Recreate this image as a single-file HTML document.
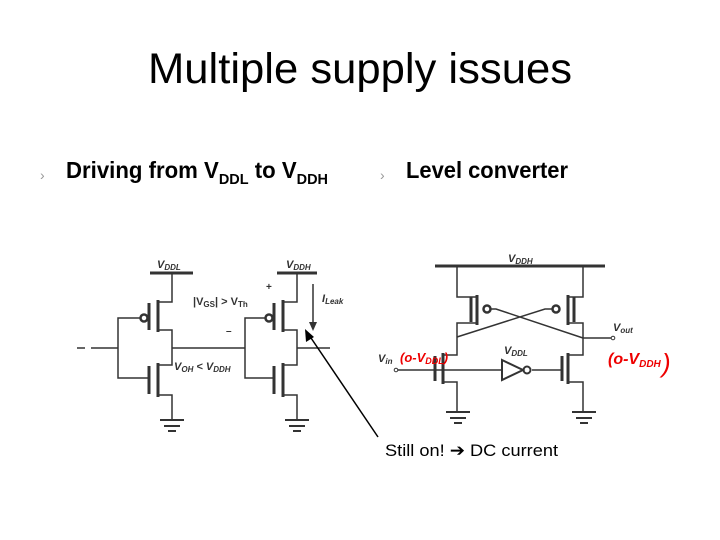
<!DOCTYPE html>
<html><head><meta charset="utf-8"><style>
html,body{margin:0;padding:0;background:#fff;width:720px;height:540px;overflow:hidden}
svg{display:block}
text{font-family:"Liberation Sans",sans-serif}
</style></head><body>
<svg width="720" height="540" viewBox="0 0 720 540" xmlns="http://www.w3.org/2000/svg">
<text x="360" y="83" font-size="43" text-anchor="middle" fill="#000" textLength="424" lengthAdjust="spacingAndGlyphs">Multiple supply issues</text>
<text x="40" y="180" font-size="14" fill="#999">›</text>
<text x="66" y="178" font-size="23" font-weight="bold" fill="#000" textLength="262" lengthAdjust="spacingAndGlyphs">Driving from V<tspan font-size="15" dy="6">DDL</tspan><tspan dy="-6"> to V</tspan><tspan font-size="15" dy="6">DDH</tspan></text>
<text x="380" y="180" font-size="14" fill="#999">›</text>
<text x="406" y="178" font-size="23" font-weight="bold" fill="#000" textLength="162" lengthAdjust="spacingAndGlyphs">Level converter</text>

<g stroke="#333" stroke-width="1.5" fill="none">
<line x1="150" y1="273" x2="193" y2="273" stroke-width="3"/>
<path d="M172 273V302H158M158 330H172V365H158M158 395H172V420"/>
<line x1="158" y1="300" x2="158" y2="332" stroke-width="3"/>
<line x1="149" y1="303" x2="149" y2="330" stroke-width="3"/>
<circle cx="144" cy="318" r="3.5" stroke-width="2.5"/>
<path d="M140 318H118V378H149"/>
<line x1="158" y1="363" x2="158" y2="397" stroke-width="3"/>
<line x1="149" y1="366" x2="149" y2="394" stroke-width="3"/>
<path d="M77 348H85M91 348H118M172 348H245"/>
<path d="M160 420H184M164 426H180M168 431H176" stroke-width="2"/>
<line x1="277" y1="273" x2="317" y2="273" stroke-width="3"/>
<path d="M297 273V302H283M283 330H297V365H283M283 395H297V420M297 348H330"/>
<line x1="283" y1="300" x2="283" y2="332" stroke-width="3"/>
<line x1="274" y1="303" x2="274" y2="330" stroke-width="3"/>
<circle cx="269" cy="318" r="3.5" stroke-width="2.5"/>
<path d="M265 318H245V378H274"/>
<line x1="283" y1="363" x2="283" y2="397" stroke-width="3"/>
<line x1="274" y1="366" x2="274" y2="394" stroke-width="3"/>
<path d="M285 420H309M289 426H305M293 431H301" stroke-width="2"/>
<path d="M313 284V328"/>
</g>
<path d="M309 322L313 331L317 322Z" fill="#333"/>
<g font-style="italic" font-weight="bold" fill="#333" font-size="11">
<text x="157" y="268">V<tspan font-size="8" dy="2">DDL</tspan></text>
<text x="286" y="268">V<tspan font-size="8" dy="2">DDH</tspan></text>
<text x="193" y="305" font-style="normal">|V<tspan font-size="8" dy="2">GS</tspan><tspan dy="-2">| &gt; V</tspan><tspan font-size="8" dy="2">Th</tspan></text>
<text x="266" y="290" font-style="normal" font-size="10">+</text>
<text x="226" y="334" font-style="normal" font-size="10">–</text>
<text x="174" y="370">V<tspan font-size="8" dy="2">OH</tspan><tspan dy="-2"> &lt; V</tspan><tspan font-size="8" dy="2">DDH</tspan></text>
<text x="322" y="302">I<tspan font-size="8" dy="2">Leak</tspan></text>
</g>

<g stroke="#333" stroke-width="1.5" fill="none">
<line x1="435" y1="266" x2="605" y2="266" stroke-width="3"/>
<path d="M457 266V297H477M477 323H457V355H443M443 382H457V412"/>
<line x1="477" y1="295" x2="477" y2="325" stroke-width="3"/>
<line x1="471" y1="297" x2="471" y2="322" stroke-width="3"/>
<circle cx="487" cy="309" r="3.5" stroke-width="2.5"/>
<path d="M583 266V297H568M568 323H583V355H568M568 382H583V412"/>
<line x1="568" y1="295" x2="568" y2="325" stroke-width="3"/>
<line x1="574" y1="297" x2="574" y2="322" stroke-width="3"/>
<circle cx="556" cy="309" r="3.5" stroke-width="2.5"/>
<path d="M491 309H496L583 338M552 309H545L457 337M583 338H611"/>
<line x1="443" y1="353" x2="443" y2="384" stroke-width="3"/>
<line x1="435" y1="356" x2="435" y2="381" stroke-width="3"/>
<line x1="568" y1="353" x2="568" y2="384" stroke-width="3"/>
<line x1="562" y1="356" x2="562" y2="381" stroke-width="3"/>
<path d="M398 370H435M435 370H502M532 370H562"/>
<path d="M502 360L523 370L502 380Z" stroke-width="2"/>
<circle cx="527" cy="370" r="3.5" stroke-width="2"/>
<circle cx="396" cy="370" r="1.8" stroke-width="1"/>
<circle cx="613" cy="338" r="1.8" stroke-width="1"/>
<path d="M446 412H470M450 418H466M454 423H462" stroke-width="2"/>
<path d="M572 412H596M576 418H592M580 423H588" stroke-width="2"/>
</g>
<g font-style="italic" font-weight="bold" fill="#333" font-size="11">
<text x="508" y="262">V<tspan font-size="8" dy="2">DDH</tspan></text>
<text x="504" y="354">V<tspan font-size="8" dy="2">DDL</tspan></text>
<text x="613" y="331">V<tspan font-size="8" dy="2">out</tspan></text>
<text x="378" y="362">V<tspan font-size="8" dy="2">in</tspan></text>
</g>
<g fill="#e00" font-style="italic" font-weight="bold">
<text x="400" y="362" font-size="13">(o-V<tspan font-size="9" dy="2">DDL</tspan><tspan dy="-2">)</tspan></text>
<text x="608" y="364" font-size="16">(o-V<tspan font-size="10" dy="3">DDH</tspan></text>
<text x="662" y="372" font-size="26" font-weight="normal">)</text>
</g>

<line x1="378" y1="437" x2="309" y2="335" stroke="#000" stroke-width="1.5"/>
<path d="M305 329L306 342L314 337Z" fill="#000"/>
<text x="385" y="456" font-size="17" fill="#000" textLength="173" lengthAdjust="spacingAndGlyphs">Still on! ➔ DC current</text>
</svg>
</body></html>
